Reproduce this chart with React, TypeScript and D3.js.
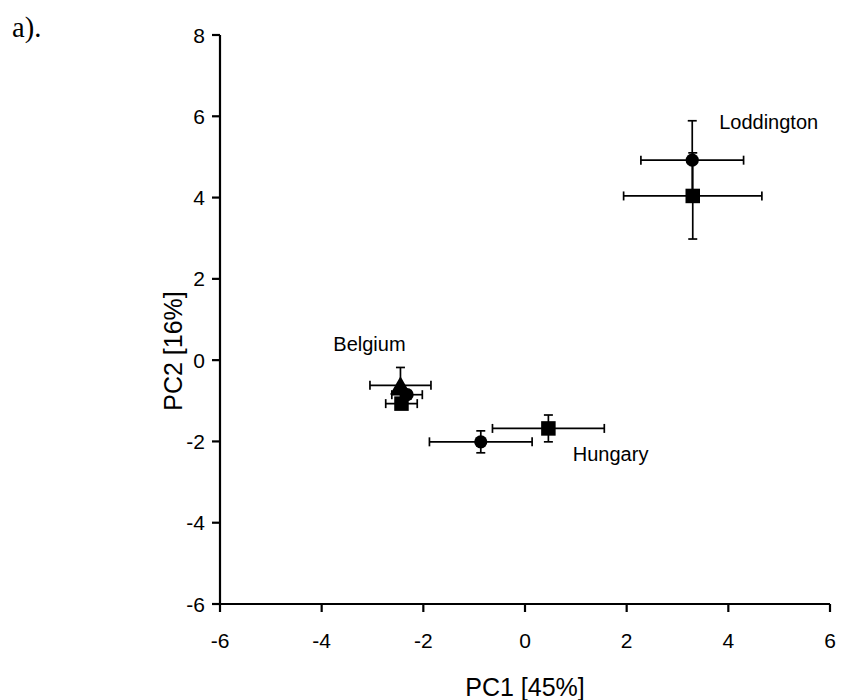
import React from "react";
import * as d3 from "d3";

// PCA scores per site (mean ± error on each component)
const groups = ["Loddington", "Loddington", "Belgium", "Belgium", "Belgium", "Hungary", "Hungary"];
const shapes = ["circle", "square", "triangle", "circle", "square", "circle", "square"];
const pc1 = [3.29, 3.3, -2.45, -2.32, -2.43, -0.87, 0.46];
const pc2 = [4.92, 4.04, -0.62, -0.85, -1.07, -2.01, -1.68];
const pc1Err = [1.01, 1.36, 0.6, 0.3, 0.31, 1.01, 1.1];
const pc2Err = [0.97, 1.06, 0.44, 0.1, 0.1, 0.27, 0.33];

// Site name annotations (data coordinates of the text anchor)
const siteLabels = ["Loddington", "Belgium", "Hungary"];
const labelPc1 = [3.82, -3.77, 0.94];
const labelPc2 = [5.68, 0.22, -2.49];

const xTicks = [-6, -4, -2, 0, 2, 4, 6];
const yTicks = [-6, -4, -2, 0, 2, 4, 6, 8];

const W = 842;
const H = 700;
const sans = "'Liberation Sans', Arial, Helvetica, sans-serif";
const serif = "'Liberation Serif', 'Times New Roman', serif";

export default function App() {
  const x = d3.scaleLinear().domain([-6, 6]).range([220, 830]);
  const y = d3.scaleLinear().domain([-6, 8]).range([604, 35]);
  const capHalf = 4.5;
  const sq = 14.5;
  const r = 6.6;
  const triSide = 21;
  const triH = (triSide * Math.sqrt(3)) / 2;

  const marker = (shape: string, cx: number, cy: number, key: string) => {
    if (shape === "circle") return <circle key={key} cx={cx} cy={cy} r={r} fill="#000" />;
    if (shape === "square")
      return <rect key={key} x={cx - sq / 2} y={cy - sq / 2} width={sq} height={sq} fill="#000" />;
    const p = d3.path();
    p.moveTo(cx, cy - triH / 2);
    p.lineTo(cx + triSide / 2, cy + triH / 2);
    p.lineTo(cx - triSide / 2, cy + triH / 2);
    p.closePath();
    return <path key={key} d={p.toString()} fill="#000" />;
  };

  const idx = d3.range(pc1.length);

  return (
    <svg
      width={W}
      height={H}
      style={{ position: "absolute", left: 0, top: 0, display: "block", background: "#fff" }}
    >
      <text x={12} y={37} fontFamily={serif} fontSize={28.5} fill="#000">
        a).
      </text>

      {/* axes */}
      <g stroke="#000" strokeWidth={2.2} fill="none">
        <line x1={x(-6)} y1={y(8)} x2={x(-6)} y2={y(-6)} />
        <line x1={x(-6)} y1={y(-6)} x2={x(6)} y2={y(-6)} />
        {yTicks.map((t) => (
          <line key={"yt" + t} x1={x(-6) - 8} x2={x(-6)} y1={y(t)} y2={y(t)} />
        ))}
        {xTicks.map((t) => (
          <line key={"xt" + t} x1={x(t)} x2={x(t)} y1={y(-6)} y2={y(-6) + 8} />
        ))}
      </g>
      <g fontFamily={sans} fontSize={21} fill="#000">
        {yTicks.map((t) => (
          <text key={"yl" + t} x={x(-6) - 15} y={y(t) + 7.5} textAnchor="end">
            {t}
          </text>
        ))}
        {xTicks.map((t) => (
          <text key={"xl" + t} x={x(t)} y={y(-6) + 44} textAnchor="middle">
            {t}
          </text>
        ))}
      </g>
      <text x={x(0)} y={696} textAnchor="middle" fontFamily={sans} fontSize={25} fill="#000">
        PC1 [45%]
      </text>
      <text
        transform={`translate(182,351) rotate(-90)`}
        textAnchor="middle"
        fontFamily={sans}
        fontSize={25}
        fill="#000"
      >
        PC2 [16%]
      </text>

      {/* error bars */}
      <g stroke="#000" strokeWidth={1.7} fill="none">
        {idx.map((i) => {
          const cx = x(pc1[i]);
          const cy = y(pc2[i]);
          const xl = x(pc1[i] - pc1Err[i]);
          const xr = x(pc1[i] + pc1Err[i]);
          const yt = y(pc2[i] + pc2Err[i]);
          const yb = y(pc2[i] - pc2Err[i]);
          return (
            <g key={"eb" + i}>
              <line x1={xl} x2={xr} y1={cy} y2={cy} />
              <line x1={xl} x2={xl} y1={cy - capHalf} y2={cy + capHalf} />
              <line x1={xr} x2={xr} y1={cy - capHalf} y2={cy + capHalf} />
              <line x1={cx} x2={cx} y1={yt} y2={yb} />
              <line x1={cx - capHalf} x2={cx + capHalf} y1={yt} y2={yt} />
              <line x1={cx - capHalf} x2={cx + capHalf} y1={yb} y2={yb} />
            </g>
          );
        })}
      </g>

      {/* markers */}
      <g>{idx.map((i) => marker(shapes[i], x(pc1[i]), y(pc2[i]), groups[i] + i))}</g>

      {/* site names */}
      <g fontFamily={sans} fontSize={20} fill="#000">
        {siteLabels.map((s, i) => (
          <text key={s} x={x(labelPc1[i])} y={y(labelPc2[i])}>
            {s}
          </text>
        ))}
      </g>
    </svg>
  );
}
